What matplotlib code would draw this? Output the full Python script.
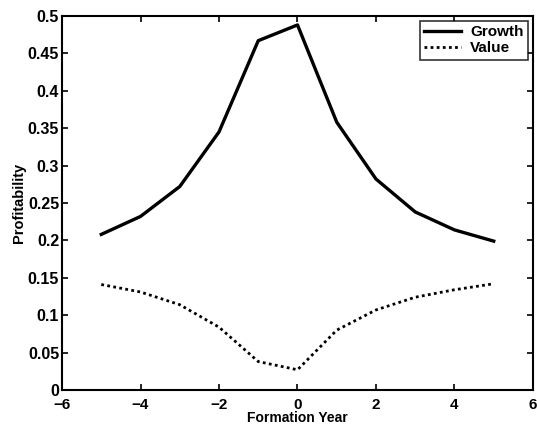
import numpy as np
import matplotlib.pyplot as plt

plt.rcParams['font.family'] = ['Liberation Sans', 'DejaVu Sans']
plt.rcParams['font.weight'] = 'bold'

years = [-5, -4, -3, -2, -1, 0, 1, 2, 3, 4, 5]
growth = [0.208, 0.232, 0.272, 0.345, 0.467, 0.488, 0.358, 0.282, 0.238, 0.214, 0.199]
value = [0.141, 0.131, 0.114, 0.084, 0.038, 0.027, 0.080, 0.107, 0.124, 0.134, 0.142]

fig = plt.figure(figsize=(5.37, 4.25), dpi=100)
ax = fig.add_axes([0.1155, 0.0824, 0.877, 0.88])

ax.plot(years, growth, color='black', linewidth=2.4, label='Growth')
ax.plot(years, value, color='black', linewidth=2.0, linestyle=(0, (1, 1.2)), label='Value')

ax.set_xlim(-6, 6)
ax.set_ylim(0, 0.5)
ax.set_xticks(np.arange(-6, 7, 2))
ax.set_yticks(np.arange(0, 0.51, 0.05))
ax.set_yticklabels(['0', '0.05', '0.1', '0.15', '0.2', '0.25', '0.3', '0.35', '0.4', '0.45', '0.5'])
ax.tick_params(direction='in', top=True, right=True, length=4, width=1.2, labelsize=11.5)
ax.tick_params(axis='x', pad=6, labelsize=11)
ax.tick_params(axis='y', pad=2)
for lbl in ax.get_xticklabels() + ax.get_yticklabels():
    lbl.set_fontweight('bold')
for spine in ax.spines.values():
    spine.set_linewidth(1.5)

ax.set_xlabel('Formation Year', fontsize=10, fontweight='bold', labelpad=-1)
ax.set_ylabel('Profitability', fontsize=10.5, fontweight='bold', labelpad=1)

leg = ax.legend(loc='upper right', fontsize=11, frameon=True, fancybox=False,
                borderpad=0.3, handlelength=2.4, handletextpad=0.6, labelspacing=0.15,
                borderaxespad=0.3)
leg.get_frame().set_edgecolor('black')
leg.get_frame().set_linewidth(1.2)

fig.savefig('out.png', dpi=100)
